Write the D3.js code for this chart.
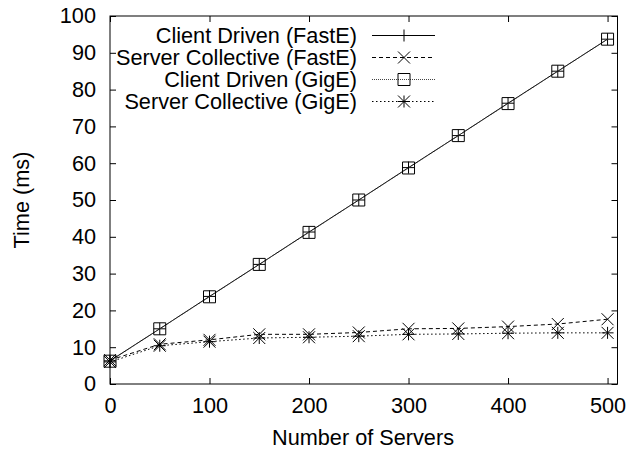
<!DOCTYPE html>
<meta charset="utf-8">
<style>
body { margin: 0; background: #fff; }
svg { display: block; }
text { font-family: "Liberation Sans", Arial, sans-serif; font-size: 21.7px; fill: #000; }
.axis path { display: none; }
.axis line { stroke: #000; stroke-width: 1; }
</style>
<body>
<svg width="632" height="449"></svg>
<script src="https://d3js.org/d3.v7.min.js"></script>
<script>
// values
var servers = [0, 50, 100, 150, 200, 250, 300, 350, 400, 450, 500];
var clientFastE = [6.3, 15.0, 23.8, 32.5, 41.3, 50.0, 58.8, 67.5, 76.3, 85.0, 93.7];
var serverFastE = [6.5, 10.8, 12.0, 13.5, 13.5, 14.0, 15.0, 15.1, 15.6, 16.3, 17.6];
var clientGigE  = [6.2, 15.0, 23.7, 32.5, 41.2, 50.0, 58.7, 67.5, 76.2, 85.0, 93.7];
var serverGigE  = [6.0, 10.4, 11.5, 12.5, 12.7, 13.0, 13.5, 13.6, 13.8, 13.9, 13.9];
var xTicks = [0, 100, 200, 300, 400, 500];
var yTicks = [0, 10, 20, 30, 40, 50, 60, 70, 80, 90, 100];

var series = [
  {name: "Client Driven (FastE)",     values: clientFastE, marker: "plus",   dash: null,      stroke: "#000"},
  {name: "Server Collective (FastE)", values: serverFastE, marker: "cross",  dash: "4,3",     stroke: "#000"},
  {name: "Client Driven (GigE)",      values: clientGigE,  marker: "square", dash: "1,1",     stroke: "#444"},
  {name: "Server Collective (GigE)",  values: serverGigE,  marker: "star",   dash: "1.5,2.5", stroke: "#000"}
];

var svg = d3.select("svg");
var pLeft = 110, pRight = 617.5, pTop = 16, pBottom = 384;

var x = d3.scaleLinear().domain([0, 510]).range([pLeft, pRight]);
var y = d3.scaleLinear().domain([0, 100]).range([pBottom, pTop]);

function markerPath(type) {
  var r = 6;
  var plus = "M-" + r + ",0H" + r + "M0,-" + r + "V" + r;
  var cross = "M-" + r + ",-" + r + "L" + r + "," + r + "M-" + r + "," + r + "L" + r + ",-" + r;
  if (type == "plus") return plus;
  if (type == "cross") return cross;
  if (type == "square") return "M-" + r + ",-" + r + "H" + r + "V" + r + "H-" + r + "Z";
  return plus + cross;
}

// axes, ticks pointing inward, mirrored on top and right
svg.append("g").attr("class", "axis")
    .attr("transform", "translate(" + pLeft + ",0)")
    .call(d3.axisLeft(y).tickValues(yTicks).tickSize(-6).tickPadding(14));
svg.append("g").attr("class", "axis")
    .attr("transform", "translate(" + pRight + ",0)")
    .call(d3.axisRight(y).tickValues(yTicks).tickSize(-6).tickFormat(""));
svg.append("g").attr("class", "axis")
    .attr("transform", "translate(0," + pBottom + ")")
    .call(d3.axisBottom(x).tickValues(xTicks).tickSize(-6).tickPadding(14));
svg.append("g").attr("class", "axis")
    .attr("transform", "translate(0," + pTop + ")")
    .call(d3.axisTop(x).tickValues(xTicks).tickSize(-6).tickFormat(""));

svg.selectAll(".axis text").attr("font-size", null).attr("font-family", null);
svg.selectAll(".axis").attr("font-size", null).attr("font-family", null);

svg.append("rect")
    .attr("x", pLeft).attr("y", pTop)
    .attr("width", pRight - pLeft).attr("height", pBottom - pTop)
    .attr("fill", "none").attr("stroke", "#000").attr("stroke-width", 1);

svg.append("text")
    .attr("transform", "translate(29," + ((pTop + pBottom) / 2) + ") rotate(-90)")
    .attr("text-anchor", "middle")
    .text("Time (ms)");

svg.append("text")
    .attr("x", 363).attr("y", 445)
    .attr("text-anchor", "middle")
    .text("Number of Servers");

// legend
var legend = svg.append("g");
series.forEach(function(s, i) {
  var ly = 35.5 + i * 22;
  legend.append("text")
      .attr("x", 357).attr("y", ly).attr("dy", "0.35em")
      .attr("text-anchor", "end")
      .text(s.name);
  legend.append("line")
      .attr("x1", 372).attr("x2", 435).attr("y1", ly).attr("y2", ly)
      .attr("stroke", s.stroke).attr("stroke-width", 1)
      .attr("stroke-dasharray", s.dash);
  legend.append("path")
      .attr("transform", "translate(404," + ly + ")")
      .attr("d", markerPath(s.marker))
      .attr("fill", "none").attr("stroke", "#000").attr("stroke-width", 1);
});

// lines and points
var line = d3.line()
    .x(function(d, i) { return x(servers[i]); })
    .y(function(d) { return y(d); });

series.forEach(function(s) {
  svg.append("path")
      .attr("d", line(s.values))
      .attr("fill", "none")
      .attr("stroke", s.stroke).attr("stroke-width", 1)
      .attr("stroke-dasharray", s.dash);
  svg.selectAll(null)
    .data(s.values)
    .enter().append("path")
      .attr("transform", function(d, i) { return "translate(" + x(servers[i]) + "," + y(d) + ")"; })
      .attr("d", markerPath(s.marker))
      .attr("fill", "none").attr("stroke", "#000").attr("stroke-width", 1);
});
</script>
</body>
